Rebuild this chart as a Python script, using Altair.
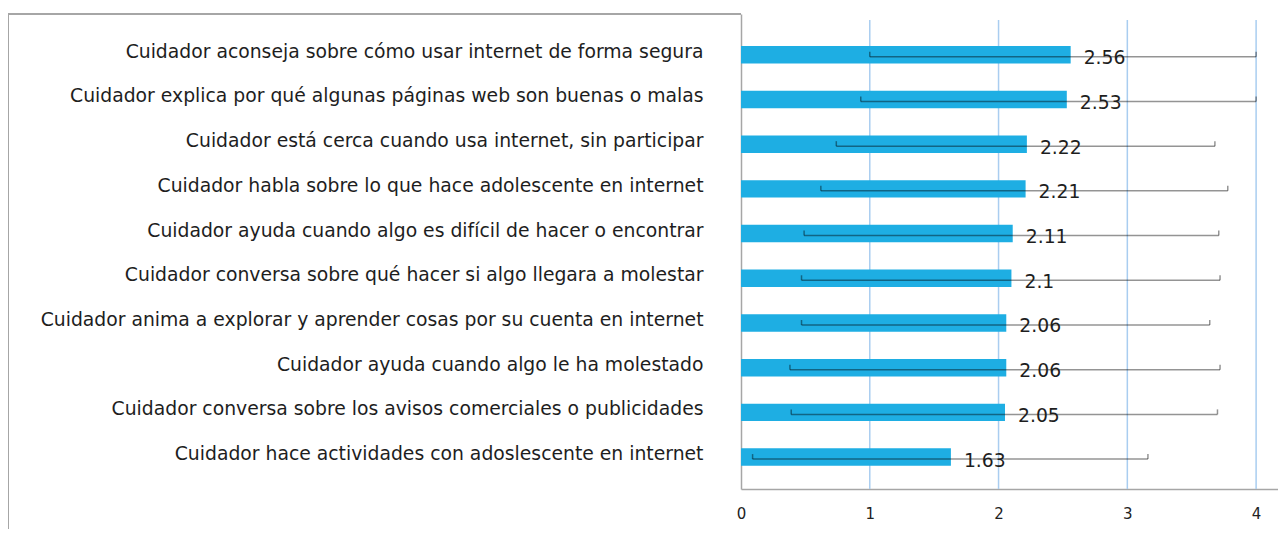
import altair as alt
import pandas as pd

labels = [
    "Cuidador aconseja sobre cómo usar internet de forma segura",
    "Cuidador explica por qué algunas páginas web son buenas o malas",
    "Cuidador está cerca cuando usa internet, sin participar",
    "Cuidador habla sobre lo que hace adolescente en internet",
    "Cuidador ayuda cuando algo es difícil de hacer o encontrar",
    "Cuidador conversa sobre qué hacer si algo llegara a molestar",
    "Cuidador anima a explorar y aprender cosas por su cuenta en internet",
    "Cuidador ayuda cuando algo le ha molestado",
    "Cuidador conversa sobre los avisos comerciales o publicidades",
    "Cuidador hace actividades con adoslescente en internet",
]
means = [2.56, 2.53, 2.22, 2.21, 2.11, 2.1, 2.06, 2.06, 2.05, 1.63]
lows = [1.0, 0.93, 0.74, 0.62, 0.49, 0.47, 0.47, 0.38, 0.39, 0.09]
highs = [4.0, 4.0, 3.68, 3.78, 3.71, 3.72, 3.64, 3.72, 3.70, 3.16]
grid_values = [1, 2, 3, 4]
tick_values = [0, 1, 2, 3, 4]

df = pd.DataFrame({"label": labels, "mean": means, "low": lows, "high": highs})
grid_df = pd.DataFrame({"g": grid_values})

FONT = "DejaVu Sans"
xscale = alt.Scale(domain=[0, 4.17], nice=False, zero=True)
yscale = alt.Scale(paddingInner=0.61, paddingOuter=0.618, align=0.58)

base = alt.Chart(df)

y_enc = alt.Y(
    "label:N",
    sort=None,
    scale=yscale,
    axis=alt.Axis(
        title=None,
        ticks=False,
        labelPadding=38,
        labelFontSize=18.8,
        labelFont=FONT,
        labelColor="#1e1e1e",
        labelLimit=800,
        labelOffset=-3,
        domainColor="#a6a6a6",
        domainWidth=1.5,
        grid=False,
    ),
)

grid = alt.Chart(grid_df).mark_rule(color="#a9cdf0", strokeWidth=1.5).encode(
    x=alt.X("g:Q", scale=xscale),
    y=alt.value(6),
    y2=alt.value(475),
)

bars = base.mark_bar(color="#1eaee3").encode(
    x=alt.X(
        "mean:Q",
        scale=xscale,
        axis=alt.Axis(
            title=None,
            values=tick_values,
            format="d",
            ticks=False,
            grid=False,
            labelFlush=False,
            labelFontSize=15,
            labelFont=FONT,
            labelColor="#222222",
            labelPadding=17,
            domainColor="#a6a6a6",
            domainWidth=1.5,
        ),
    ),
    y=y_enc,
)

err = base.mark_rule(color="#000000", opacity=0.42, strokeWidth=1.5, yOffset=2).encode(
    x=alt.X("low:Q", scale=xscale),
    x2="high:Q",
    y=alt.Y("label:N", sort=None, scale=yscale),
)
cap_lo = base.mark_tick(color="#000000", opacity=0.42, thickness=1.5, size=5, yOffset=-0.5).encode(
    x=alt.X("low:Q", scale=xscale),
    y=alt.Y("label:N", sort=None, scale=yscale),
)
cap_hi = base.mark_tick(color="#000000", opacity=0.42, thickness=1.5, size=5, yOffset=-0.5).encode(
    x=alt.X("high:Q", scale=xscale),
    y=alt.Y("label:N", sort=None, scale=yscale),
)

text = base.mark_text(
    align="left", baseline="middle", dx=13, dy=3.5, fontSize=18.8, font=FONT, color="#1e1e1e"
).encode(
    x=alt.X("mean:Q", scale=xscale),
    y=alt.Y("label:N", sort=None, scale=yscale),
    text=alt.Text("mean:Q"),
)

frame_top = alt.Chart(grid_df).mark_rule(color="#a6a6a6", strokeWidth=1.5).encode(
    x=alt.value(-733), x2=alt.value(0), y=alt.value(0)
)
frame_left = alt.Chart(grid_df).mark_rule(color="#a6a6a6", strokeWidth=1.5).encode(
    x=alt.value(-733), y=alt.value(0), y2=alt.value(524)
)

chart = (
    alt.layer(grid, bars, err, cap_lo, cap_hi, text, frame_top, frame_left)
    .properties(
        width=537,
        height=475,
        autosize=alt.AutoSizeParams(type="none"),
        padding={"left": 733, "top": 6, "right": 0, "bottom": 40},
        background="white",
    )
    .configure_view(stroke=None)
)

chart.save("out.html", embed_options={"renderer": "svg", "actions": False})
